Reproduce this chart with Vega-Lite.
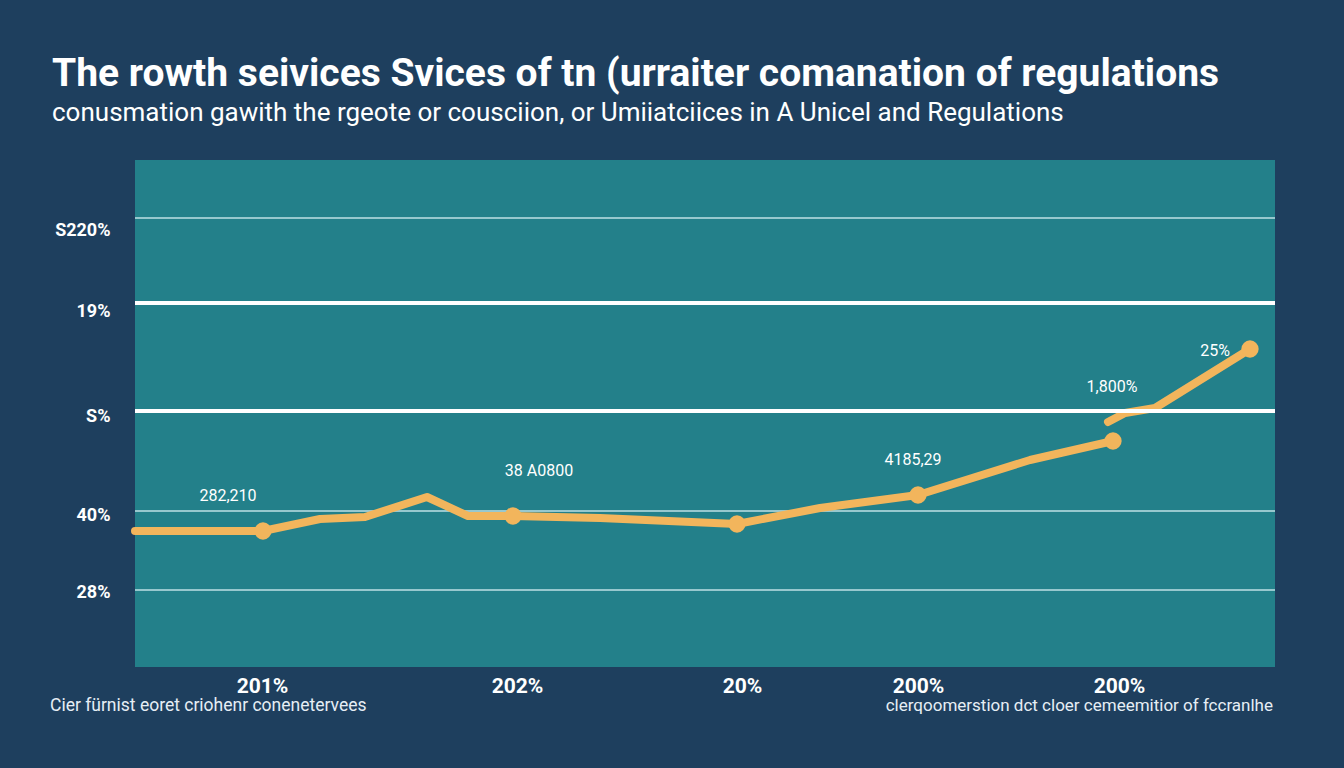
{
  "$schema": "https://vega.github.io/schema/vega-lite/v6.json",
  "width": 1140,
  "height": 507,
  "autosize": {"type": "none"},
  "padding": {"left": 135, "top": 160, "right": 69, "bottom": 101},
  "background": "#1e3f5e",
  "view": {"fill": "#23808a", "stroke": null},
  "title": {
    "text": "The rowth seivices Svices of tn (urraiter comanation of  regulations",
    "subtitle": "conusmation gawith the rgeote or cousciion, or Umiiatciices in A Unicel and Regulations",
    "anchor": "start",
    "frame": "group",
    "dx": -83,
    "offset": 34,
    "font": "Roboto",
    "fontSize": 39,
    "fontWeight": "bold",
    "color": "#ffffff",
    "subtitleFont": "Roboto",
    "subtitleFontSize": 26,
    "subtitleColor": "#ffffff",
    "subtitlePadding": 6
  },
  "datasets": {
    "thin": [{"y": 449}, {"y": 156}, {"y": 77}],
    "thick": [{"y": 364}, {"y": 256}],
    "line": [
      {"x": 0, "y": 136, "s": "a"},
      {"x": 128, "y": 136, "s": "a"},
      {"x": 185, "y": 148, "s": "a"},
      {"x": 230, "y": 150, "s": "a"},
      {"x": 292, "y": 170, "s": "a"},
      {"x": 333, "y": 151, "s": "a"},
      {"x": 378, "y": 151, "s": "a"},
      {"x": 465, "y": 149, "s": "a"},
      {"x": 602, "y": 143, "s": "a"},
      {"x": 685, "y": 159, "s": "a"},
      {"x": 783, "y": 172, "s": "a"},
      {"x": 895, "y": 207, "s": "a"},
      {"x": 978, "y": 226, "s": "a"},
      {"x": 973, "y": 245, "s": "b"},
      {"x": 990, "y": 254, "s": "b"},
      {"x": 1020, "y": 259, "s": "b"},
      {"x": 1115, "y": 318, "s": "b"}
    ],
    "pts": [
      {"x": 128, "y": 136},
      {"x": 378, "y": 151},
      {"x": 602, "y": 143},
      {"x": 783, "y": 172},
      {"x": 978, "y": 226},
      {"x": 1115, "y": 318}
    ],
    "notes": [
      {"x": 93, "y": 171, "t": "282,210"},
      {"x": 404, "y": 196, "t": "38 A0800"},
      {"x": 778, "y": 207, "t": "4185,29"},
      {"x": 977, "y": 280, "t": "1,800%"},
      {"x": 1080, "y": 316, "t": "25%"}
    ],
    "footL": [
      {"x": -85, "y": -39, "t": "Cier fürnist eoret criohenr conenetervees"}
    ],
    "footR": [
      {"x": 1138, "y": -39, "t": "clerqoomerstion dct cloer cemeemitior  of fccranlhe"}
    ]
  },
  "layer": [
    {
      "data": {"name": "thin"},
      "mark": {"type": "rule", "color": "#bfe0e4", "strokeWidth": 1.3},
      "encoding": {
        "y": {
          "field": "y", "type": "quantitative",
          "scale": {"domain": [0, 507], "nice": false, "zero": false},
          "axis": {
            "values": [437, 356, 251, 152, 75],
            "labelExpr": "datum.value==437?'S220%':datum.value==356?'19%':datum.value==251?'S%':datum.value==152?'40%':'28%'",
            "grid": false, "ticks": false, "domain": false,
            "labelPadding": 25, "labelFont": "Roboto", "labelFontSize": 18, "labelFontWeight": "bold",
            "labelColor": "#ffffff", "title": null
          }
        }
      }
    },
    {
      "data": {"name": "line"},
      "mark": {"type": "line", "color": "#f2b55c", "strokeWidth": 8, "strokeCap": "round", "strokeJoin": "round"},
      "encoding": {
        "x": {
          "field": "x", "type": "quantitative",
          "scale": {"domain": [0, 1140], "nice": false, "zero": false},
          "axis": {
            "values": [127, 382, 607, 783, 984],
            "labelExpr": "datum.value==127?'201%':datum.value==382?'202%':datum.value==607?'20%':'200%'",
            "grid": false, "ticks": false, "domain": false,
            "labelPadding": 8, "labelFont": "Roboto", "labelFontSize": 21, "labelFontWeight": "bold",
            "labelColor": "#ffffff", "title": null
          }
        },
        "y": {"field": "y", "type": "quantitative"},
        "detail": {"field": "s"}
      }
    },
    {
      "data": {"name": "pts"},
      "mark": {"type": "circle", "color": "#f2b55c", "size": 300, "opacity": 1},
      "encoding": {
        "x": {"field": "x", "type": "quantitative"},
        "y": {"field": "y", "type": "quantitative"}
      }
    },
    {
      "data": {"name": "thick"},
      "mark": {"type": "rule", "color": "#ffffff", "strokeWidth": 4},
      "encoding": {
        "y": {"field": "y", "type": "quantitative"}
      }
    },
    {
      "data": {"name": "notes"},
      "mark": {"type": "text", "color": "#ffffff", "font": "Roboto", "fontSize": 16, "align": "center", "baseline": "middle"},
      "encoding": {
        "x": {"field": "x", "type": "quantitative"},
        "y": {"field": "y", "type": "quantitative"},
        "text": {"field": "t"}
      }
    },
    {
      "data": {"name": "footL"},
      "mark": {"type": "text", "color": "#e6eef5", "font": "Roboto", "fontSize": 17.5, "baseline": "middle", "align": "left"},
      "encoding": {
        "x": {"field": "x", "type": "quantitative"},
        "y": {"field": "y", "type": "quantitative"},
        "text": {"field": "t"}
      }
    },
    {
      "data": {"name": "footR"},
      "mark": {"type": "text", "color": "#e6eef5", "font": "Roboto", "fontSize": 17, "baseline": "middle", "align": "right"},
      "encoding": {
        "x": {"field": "x", "type": "quantitative"},
        "y": {"field": "y", "type": "quantitative"},
        "text": {"field": "t"}
      }
    }
  ]
}
